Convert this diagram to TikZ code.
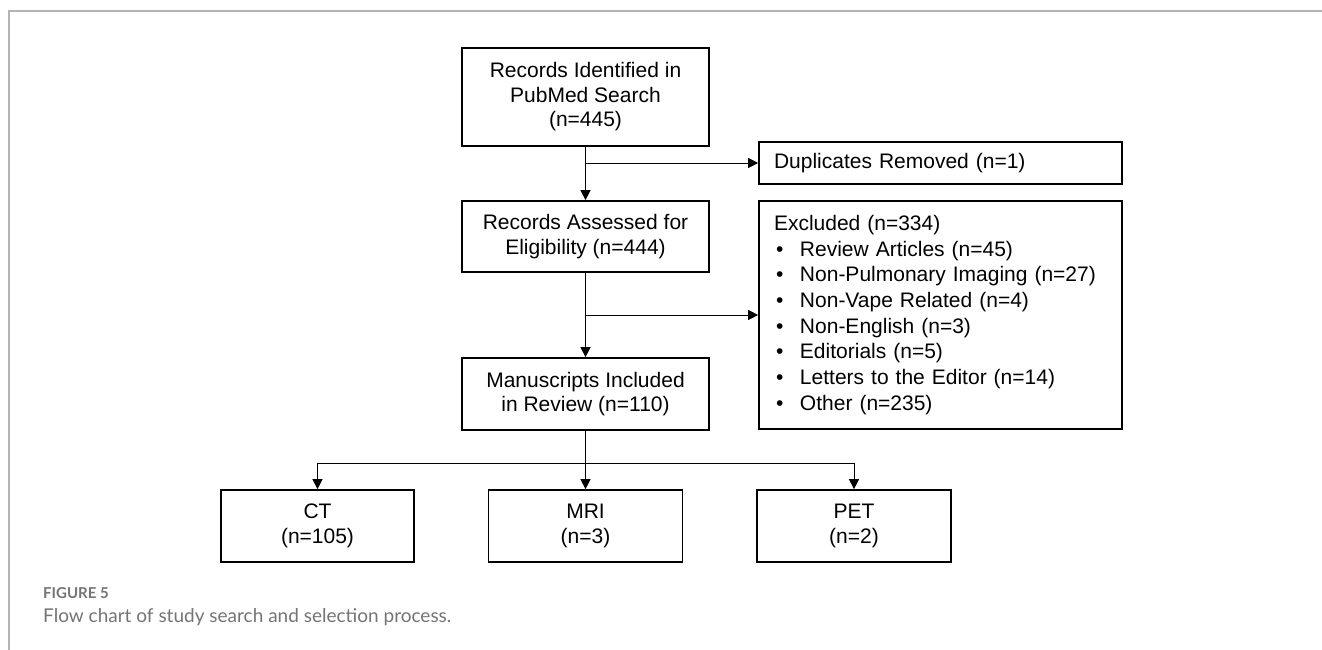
\documentclass[tikz,border=0pt]{standalone}
\usepackage{fontspec}
\setmainfont{Liberation Sans}
\newfontfamily\capfont{Lato}
\usepackage{xcolor}
\usepackage{tikz}
\usetikzlibrary{arrows.meta}
\usetikzlibrary{positioning}
\tikzset{>={Triangle[length=10pt,width=10pt]}}
\definecolor{framegray}{HTML}{B4B4B4}
\definecolor{capgray}{HTML}{747474}
\tikzstyle{box} = [rectangle, draw=black, line width=1.7pt, align=center, inner sep=0pt, font=\fontsize{21}{24.5}\selectfont]
\tikzstyle{listbox} = [box, align=left, text width=333pt, font=\fontsize{21}{25.7}\selectfont]
\tikzstyle{link} = [->, line width=1pt]
\newcommand{\blt}{\makebox[26pt][l]{\hspace{2pt}\textbullet}}

\begin{document}
\begin{tikzpicture}[x=1pt, y=-1pt]
\useasboundingbox (0,0) rectangle (1322,650);
% frame
\draw [framegray, line width=2pt] (8,11) -- (1322,11);
\draw [framegray, line width=2pt] (9,11) -- (9,650);

% main column
\node [box, minimum width=247pt, minimum height=98pt] (rec) at (585.5,97) {Records Identified in\\PubMed Search\\(n=445)};
\node [box, minimum width=247pt, minimum height=71pt] (elig) at (585.5,236.5) {Records Assessed for\\Eligibility (n=444)};
\node [box, minimum width=247pt, minimum height=72pt] (incl) at (585.5,394) {Manuscripts Included\\in Review (n=110)};

% side boxes
\node [listbox, minimum width=363pt, minimum height=42pt] (dup) at (940.5,163) {Duplicates Removed (n=1)};
\node [listbox, minimum width=363pt, minimum height=228pt] (excl) at (940.5,315) {Excluded (n=334)\\
\blt Review Articles (n=45)\\
\blt Non-Pulmonary Imaging (n=27)\\
\blt Non-Vape Related (n=4)\\
\blt Non-English (n=3)\\
\blt Editorials (n=5)\\
\blt Letters to the Editor (n=14)\\
\blt Other (n=235)};

% modalities
\node [box, minimum width=193pt, minimum height=72pt] (ct) at (317.5,526) {CT\\(n=105)};
\node [box, minimum width=194pt, minimum height=72pt] (mri) at (585.5,526) {MRI\\(n=3)};
\node [box, minimum width=194pt, minimum height=72pt] (pet) at (854,526) {PET\\(n=2)};

% connectors
\coordinate (s1) at (rec.south |- dup.west);
\coordinate (s2) at (elig.south |- excl.west);
\coordinate (s3) at (585.5,463);
\draw [link] (rec) -- (elig);
\draw [link] (s1) -- (dup);
\draw [link] (elig) -- (incl);
\draw [link] (s2) -- (excl);
\draw [link] (incl) -- (mri);
\draw [link] (s3) -| (ct);
\draw [link] (s3) -| (pet);

% caption
\node [anchor=base west, inner sep=0pt, text=capgray, font=\capfont\bfseries\fontsize{15}{18}\selectfont] (fig) at (43,598) {FIGURE 5};
\node [anchor=base west, inner sep=0pt, text=capgray, font=\capfont\fontsize{19}{22}\selectfont] (cap) at (43,622) {Flow chart of study search and selection process.};
\end{tikzpicture}
\end{document}
